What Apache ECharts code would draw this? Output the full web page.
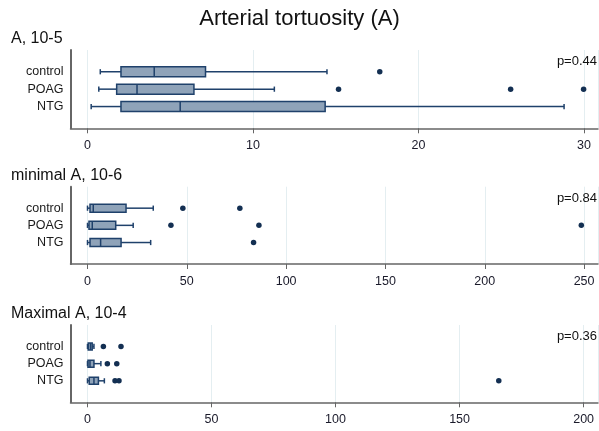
<!DOCTYPE html>
<html>
<head>
<meta charset="utf-8">
<script src="https://cdn.jsdelivr.net/npm/echarts@6/dist/echarts.min.js"></script>
<style>
  html, body { margin: 0; padding: 0; background: #fff; }
  #chart { width: 599px; height: 431px; }
</style>
</head>
<body>
<div id="chart"></div>
<script>
const groups = ["control", "POAG", "NTG"];
const panelTitles = ["A, 10-5", "minimal A, 10-6", "Maximal A, 10-4"];
const pValues = ["p=0.44", "p=0.84", "p=0.36"];

// box stats per group: [min, q1, median, q3, max]
const boxA = [
  [0.77, 2.02, 4.03, 7.13, 14.47],
  [0.68, 1.76, 2.99, 6.43, 11.29],
  [0.22, 2.02, 5.6, 14.36, 28.8]
];
const outA = [[17.66], [15.17, 25.57, 29.98], []];

const boxMin = [
  [0, 1.26, 2.9, 19.4, 33.1],
  [0, 0.75, 2.4, 14.2, 23],
  [0, 1.26, 6.6, 16.9, 31.8]
];
const outMin = [[48, 76.7], [42, 86.3, 248.6], [83.6]];

const boxMax = [
  [0, 0.3, 1.2, 1.9, 2.6],
  [0, 0.2, 1.0, 2.6, 5.4],
  [0, 0.7, 2.6, 4.4, 6.8]
];
const outMax = [[6.4, 13.5], [8.0, 11.8], [11.1, 12.7, 165.8]];

const xMins = [-1.03, -8.56, -6.85];
const xMaxs = [30.85, 257, 205.8];
const xSteps = [10, 50, 50];

const boxes = [boxA, boxMin, boxMax];
const outliers = [outA, outMin, outMax];

// layout
const gridTops = [50, 186.7, 325];
const gridH = [78.3, 77.3, 77.3];
const boxHeights = [10, 8, 7];
const slots = [2, 4, 6];
const nSlots = 9;

const fillC = "#8fa3b9";
const lineC = "#1f416b";
const dotC = "#132f52";
const axisC = "#666666";
const font = "Liberation Sans, Arial, sans-serif";

const yData = [];
for (let i = 0; i < nSlots; i++) {
  const k = slots.indexOf(i);
  yData.push(k >= 0 ? groups[k] : " ".repeat(i + 1));
}

const dom = document.getElementById("chart");
const myChart = echarts.init(dom, null, { renderer: "canvas" });

const grid = [], xAxis = [], yAxis = [], series = [];
const title = [{
  text: "Arterial tortuosity (A)",
  left: "center",
  top: 8,
  padding: 0,
  textStyle: { fontFamily: font, fontSize: 22, fontWeight: "normal", color: "#111" }
}];

for (let p = 0; p < 3; p++) {
  grid.push({ left: 70.5, right: 1, top: gridTops[p], height: gridH[p] });
  xAxis.push({
    type: "value",
    gridIndex: p,
    min: xMins[p],
    max: xMaxs[p],
    minInterval: xSteps[p],
    maxInterval: xSteps[p],
    axisLine: { show: true, onZero: false, lineStyle: { color: axisC, width: 1.5 } },
    axisTick: { show: true, length: 5, lineStyle: { color: axisC, width: 1 } },
    axisLabel: {
      showMinLabel: false, showMaxLabel: false,
      margin: 11, fontFamily: font, fontSize: 12.5, color: "#1a1a2a"
    },
    splitLine: { show: true, lineStyle: { color: "#e4eef1", width: 1 } }
  });
  yAxis.push({
    type: "category",
    gridIndex: p,
    data: yData,
    inverse: true,
    boundaryGap: true,
    axisLine: { show: true, onZero: false, lineStyle: { color: axisC, width: 2 } },
    axisTick: { show: false },
    splitLine: { show: false },
    axisLabel: {
      interval: 0, margin: 7, fontFamily: font, fontSize: 12.5, color: "#1a1a1a"
    }
  });

  const boxH = boxHeights[p];
  const boxData = boxes[p].map((b, i) => [slots[i]].concat(b));
  series.push({
    type: "custom",
    xAxisIndex: p,
    yAxisIndex: p,
    encode: { x: [1, 2, 3, 4, 5], y: 0 },
    data: boxData,
    renderItem: function (params, api) {
      const c = api.value(0);
      const lo = api.coord([api.value(1), c]);
      const q1 = api.coord([api.value(2), c]);
      const md = api.coord([api.value(3), c]);
      const q3 = api.coord([api.value(4), c]);
      const hi = api.coord([api.value(5), c]);
      const y = lo[1];
      const cap = 2.6;
      const ls = { stroke: lineC, lineWidth: 1.5 };
      return {
        type: "group",
        children: [
          { type: "line", shape: { x1: lo[0], y1: y, x2: q1[0], y2: y }, style: ls },
          { type: "line", shape: { x1: q3[0], y1: y, x2: hi[0], y2: y }, style: ls },
          { type: "line", shape: { x1: lo[0], y1: y - cap, x2: lo[0], y2: y + cap }, style: ls },
          { type: "line", shape: { x1: hi[0], y1: y - cap, x2: hi[0], y2: y + cap }, style: ls },
          {
            type: "rect",
            shape: { x: q1[0], y: y - boxH / 2, width: q3[0] - q1[0], height: boxH },
            style: { fill: fillC, stroke: lineC, lineWidth: 1.5 }
          },
          { type: "line", shape: { x1: md[0], y1: y - boxH / 2, x2: md[0], y2: y + boxH / 2 }, style: ls }
        ]
      };
    },
    z: 3
  });

  const dots = [];
  outliers[p].forEach((vals, i) => vals.forEach(v => dots.push([v, slots[i]])));
  series.push({
    type: "scatter",
    xAxisIndex: p,
    yAxisIndex: p,
    data: dots,
    symbol: "circle",
    symbolSize: 5.5,
    itemStyle: { color: dotC, opacity: 1 },
    z: 4
  });

  title.push({
    text: panelTitles[p],
    left: 11,
    top: gridTops[p] - 19,
    padding: 0,
    textStyle: { fontFamily: font, fontSize: 16, fontWeight: "normal", color: "#111" }
  });
  title.push({
    text: pValues[p],
    right: 2,
    top: gridTops[p] + 5,
    padding: 0,
    textStyle: { fontFamily: font, fontSize: 13, fontWeight: "normal", color: "#111" }
  });
}

const option = {
  animation: false,
  backgroundColor: "#ffffff",
  title: title,
  grid: grid,
  xAxis: xAxis,
  yAxis: yAxis,
  series: series
};

myChart.setOption(option);
</script>
</body>
</html>
